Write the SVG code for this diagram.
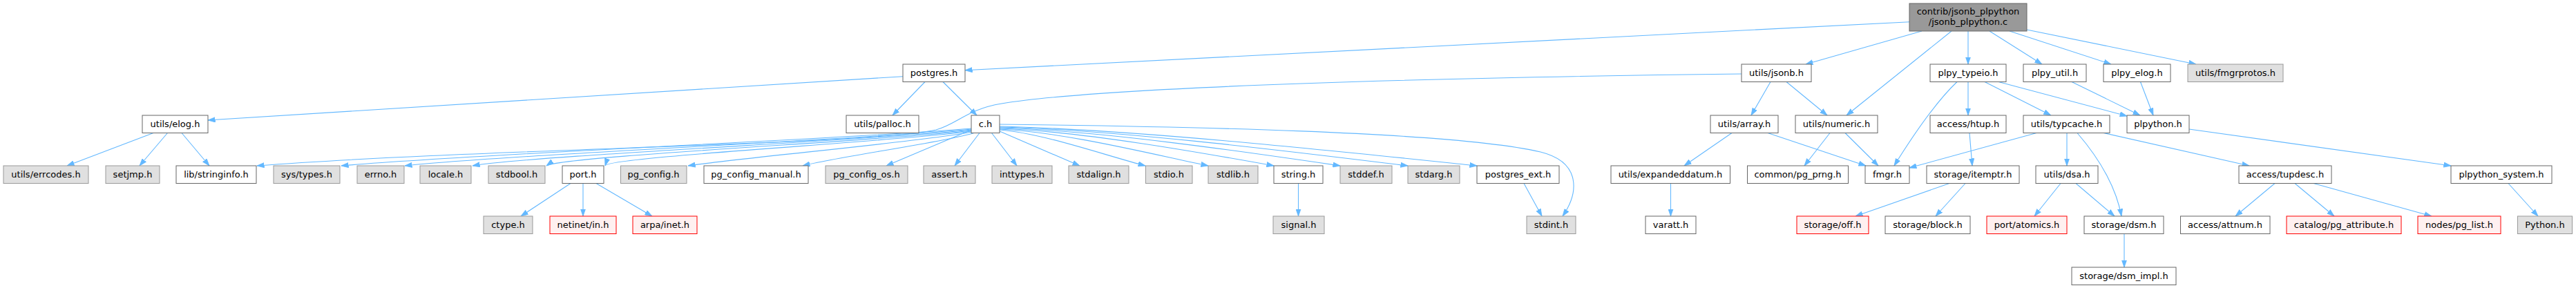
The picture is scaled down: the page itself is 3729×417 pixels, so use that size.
<svg xmlns="http://www.w3.org/2000/svg" width="3729" height="417" viewBox="0 0 3729 417">
<style>
text{font-family:"DejaVu Sans","Liberation Sans",sans-serif;font-size:13px;text-anchor:middle;fill:#000}
.w{fill:#fff;stroke:#666;stroke-width:1}
.g{fill:#e0e0e0;stroke:#999;stroke-width:1}
.r{fill:#fff0f0;stroke:#f00;stroke-width:1}
.rt{fill:#999;stroke:#666;stroke-width:1}
.e{fill:none;stroke:#63b8ff;stroke-width:1.1;marker-end:url(#arr)}
</style>
<defs>
<marker id="arr" markerUnits="userSpaceOnUse" viewBox="0 0 11 8" markerWidth="11" markerHeight="8" refX="10.5" refY="4" orient="auto">
<path d="M0,0.4 L10.5,4 L0,7.6 z" fill="#63b8ff" stroke="#63b8ff" stroke-width="0.8"/>
</marker>
</defs>
<rect x="0" y="0" width="3729" height="417" fill="#fff"/>
<g id="edges">
<path class="e" d="M2764,31.7 L1397,101.7"/>
<path class="e" d="M2782,45 L2614,93"/>
<path class="e" d="M2825,45 L2673,167"/>
<path class="e" d="M2849,45 L2849,93"/>
<path class="e" d="M2880,45 L2956,93"/>
<path class="e" d="M2909,45 L3056,93"/>
<path class="e" d="M2934,43 L3179,93"/>
<path class="e" d="M1307,110.7 L301,174"/>
<path class="e" d="M1339,118.5 L1292,167"/>
<path class="e" d="M1365,118.5 L1414,167"/>
<path class="e" d="M222,192.5 L97,240"/>
<path class="e" d="M242.5,192.5 L202,240"/>
<path class="e" d="M263,192.5 L303,240"/>
<path class="e" d="M2521,107 C2100,112 1600,125 1450,150 C1400,158 1385,180 1355,188 C1250,210 700,215 372,240"/>
<path class="e" d="M1406,186 C1250,200 700,222 494,240"/>
<path class="e" d="M1406,187 C1266,201 735,224 586,240"/>
<path class="e" d="M1406,188 C1282,202 772,225 684,240"/>
<path class="e" d="M1406,189 C1299,203 810,226 791,240"/>
<path class="e" d="M1406,190 C1313,204 880,227 876,240"/>
<path class="e" d="M1407,191 C1337,205 1086,227 996,240"/>
<path class="e" d="M1410,192.5 C1368,206 1217,226 1162,240"/>
<path class="e" d="M1406,188 L1283,240"/>
<path class="e" d="M1418,192.5 L1382,240"/>
<path class="e" d="M1435.5,192.5 L1472,240"/>
<path class="e" d="M1447,190 L1563,240"/>
<path class="e" d="M1447,188 C1510,193 1600,225 1658,240"/>
<path class="e" d="M1447,187 C1540,191 1675,225 1749,240"/>
<path class="e" d="M1447,186 C1566,190 1744,222 1844,240"/>
<path class="e" d="M1447,185 C1594,189 1817,222 1940,240"/>
<path class="e" d="M1447,184 C1623,188 1890,222 2038,240"/>
<path class="e" d="M1447,183 C1654,188 1965,222 2138,240"/>
<path class="e" d="M1447,180 C1700,183 2100,190 2230,220 C2290,235 2285,280 2262,313"/>
<path class="e" d="M826,265.5 L754,313"/>
<path class="e" d="M844,265.5 L844,313"/>
<path class="e" d="M863,265.5 L944,313"/>
<path class="e" d="M1879.5,265.5 L1879.5,313"/>
<path class="e" d="M2206,265.5 L2232,313"/>
<path class="e" d="M2563,118.5 L2535,167"/>
<path class="e" d="M2586,118.5 L2645,167"/>
<path class="e" d="M2833,118.5 C2805,145 2770,195 2742,240"/>
<path class="e" d="M2849,118.5 L2849,167"/>
<path class="e" d="M2873,118.5 L2969,167"/>
<path class="e" d="M2893,118.5 L3079,168"/>
<path class="e" d="M2999,118.5 L3098,167"/>
<path class="e" d="M3098.5,118.5 L3117,167"/>
<path class="e" d="M2507,192.5 L2438,240"/>
<path class="e" d="M2559,192.5 L2701,240"/>
<path class="e" d="M2649,192.5 L2612,240"/>
<path class="e" d="M2671,192.5 L2719,240"/>
<path class="e" d="M2851,192.5 L2855,240"/>
<path class="e" d="M2948,192.5 L2764,243"/>
<path class="e" d="M2992,192.5 L2992,240"/>
<path class="e" d="M3007,192.5 C3035,225 3062,265 3071,313"/>
<path class="e" d="M3043,192 L3256,240"/>
<path class="e" d="M3169,187 L3548,240"/>
<path class="e" d="M2418.5,265.5 L2418.5,313"/>
<path class="e" d="M2822,265.5 L2686,313"/>
<path class="e" d="M2845,265.5 L2802,313"/>
<path class="e" d="M2983,265.5 L2945,313"/>
<path class="e" d="M3005,265.5 L3061,313"/>
<path class="e" d="M3075,338.5 L3075,387"/>
<path class="e" d="M3293,265.5 L3236,313"/>
<path class="e" d="M3322,265.5 L3379,313"/>
<path class="e" d="M3349,265.5 L3520,313"/>
<path class="e" d="M3631,265.5 L3674,313"/>
</g>
<g id="node-root"><rect class="rt" x="2764" y="5" width="170" height="40"/><text x="2849" y="20.5">contrib/jsonb_plpython</text><text x="2849" y="35.5">/jsonb_plpython.c</text></g>
<g id="node-postgres"><rect class="w" x="1307" y="93" width="90" height="25.5"/><text x="1352" y="110">postgres.h</text></g>
<g id="node-jsonb"><rect class="w" x="2521" y="93" width="101" height="25.5"/><text x="2571.5" y="110">utils/jsonb.h</text></g>
<g id="node-plpy-typeio"><rect class="w" x="2794" y="93" width="110" height="25.5"/><text x="2849" y="110">plpy_typeio.h</text></g>
<g id="node-plpy-util"><rect class="w" x="2929" y="93" width="91" height="25.5"/><text x="2974.5" y="110">plpy_util.h</text></g>
<g id="node-plpy-elog"><rect class="w" x="3045" y="93" width="97" height="25.5"/><text x="3093.5" y="110">plpy_elog.h</text></g>
<g id="node-fmgrprotos"><rect class="g" x="3167" y="93" width="138" height="25.5"/><text x="3236" y="110">utils/fmgrprotos.h</text></g>
<g id="node-elog"><rect class="w" x="206" y="167" width="95" height="25.5"/><text x="253.5" y="184">utils/elog.h</text></g>
<g id="node-palloc"><rect class="w" x="1225" y="167" width="105" height="25.5"/><text x="1277.5" y="184">utils/palloc.h</text></g>
<g id="node-c"><rect class="w" x="1406" y="167" width="41" height="25.5"/><text x="1426.5" y="184">c.h</text></g>
<g id="node-array"><rect class="w" x="2476" y="167" width="98" height="25.5"/><text x="2525" y="184">utils/array.h</text></g>
<g id="node-numeric"><rect class="w" x="2599" y="167" width="119" height="25.5"/><text x="2658.5" y="184">utils/numeric.h</text></g>
<g id="node-htup"><rect class="w" x="2794" y="167" width="110" height="25.5"/><text x="2849" y="184">access/htup.h</text></g>
<g id="node-typcache"><rect class="w" x="2929" y="167" width="125" height="25.5"/><text x="2991.5" y="184">utils/typcache.h</text></g>
<g id="node-plpython"><rect class="w" x="3079" y="167" width="90" height="25.5"/><text x="3124" y="184">plpython.h</text></g>
<g id="node-errcodes"><rect class="g" x="5" y="240" width="123" height="25.5"/><text x="66.5" y="257">utils/errcodes.h</text></g>
<g id="node-setjmp"><rect class="g" x="153" y="240" width="78" height="25.5"/><text x="192" y="257">setjmp.h</text></g>
<g id="node-stringinfo"><rect class="w" x="255" y="240" width="116" height="25.5"/><text x="313" y="257">lib/stringinfo.h</text></g>
<g id="node-systypes"><rect class="g" x="396" y="240" width="96" height="25.5"/><text x="444" y="257">sys/types.h</text></g>
<g id="node-errno"><rect class="g" x="517" y="240" width="68" height="25.5"/><text x="551" y="257">errno.h</text></g>
<g id="node-locale"><rect class="g" x="608" y="240" width="74" height="25.5"/><text x="645" y="257">locale.h</text></g>
<g id="node-stdbool"><rect class="g" x="707" y="240" width="82" height="25.5"/><text x="748" y="257">stdbool.h</text></g>
<g id="node-port"><rect class="w" x="814" y="240" width="60" height="25.5"/><text x="844" y="257">port.h</text></g>
<g id="node-pg-config"><rect class="g" x="898.5" y="240" width="95.5" height="25.5"/><text x="946" y="257">pg_config.h</text></g>
<g id="node-pg-config-manual"><rect class="w" x="1019" y="240" width="151" height="25.5"/><text x="1094.5" y="257">pg_config_manual.h</text></g>
<g id="node-pg-config-os"><rect class="g" x="1195" y="240" width="119" height="25.5"/><text x="1254.5" y="257">pg_config_os.h</text></g>
<g id="node-assert"><rect class="g" x="1337" y="240" width="75" height="25.5"/><text x="1374.5" y="257">assert.h</text></g>
<g id="node-inttypes"><rect class="g" x="1436" y="240" width="87" height="25.5"/><text x="1479.5" y="257">inttypes.h</text></g>
<g id="node-stdalign"><rect class="g" x="1547" y="240" width="87" height="25.5"/><text x="1590.5" y="257">stdalign.h</text></g>
<g id="node-stdio"><rect class="g" x="1658.5" y="240" width="67.5" height="25.5"/><text x="1692" y="257">stdio.h</text></g>
<g id="node-stdlib"><rect class="g" x="1749" y="240" width="72" height="25.5"/><text x="1785" y="257">stdlib.h</text></g>
<g id="node-string"><rect class="w" x="1844" y="240" width="71" height="25.5"/><text x="1879.5" y="257">string.h</text></g>
<g id="node-stddef"><rect class="g" x="1940" y="240" width="75" height="25.5"/><text x="1977.5" y="257">stddef.h</text></g>
<g id="node-stdarg"><rect class="g" x="2038" y="240" width="75" height="25.5"/><text x="2075.5" y="257">stdarg.h</text></g>
<g id="node-postgres-ext"><rect class="w" x="2138" y="240" width="119" height="25.5"/><text x="2197.5" y="257">postgres_ext.h</text></g>
<g id="node-expandeddatum"><rect class="w" x="2332" y="240" width="172.5" height="25.5"/><text x="2418" y="257">utils/expandeddatum.h</text></g>
<g id="node-pg-prng"><rect class="w" x="2529.5" y="240" width="146" height="25.5"/><text x="2602.5" y="257">common/pg_prng.h</text></g>
<g id="node-fmgr"><rect class="w" x="2700" y="240" width="64" height="25.5"/><text x="2732" y="257">fmgr.h</text></g>
<g id="node-itemptr"><rect class="w" x="2789" y="240" width="134" height="25.5"/><text x="2856" y="257">storage/itemptr.h</text></g>
<g id="node-dsa"><rect class="w" x="2947" y="240" width="90" height="25.5"/><text x="2992" y="257">utils/dsa.h</text></g>
<g id="node-tupdesc"><rect class="w" x="3241" y="240" width="134" height="25.5"/><text x="3308" y="257">access/tupdesc.h</text></g>
<g id="node-plpython-system"><rect class="w" x="3548" y="240" width="146" height="25.5"/><text x="3621" y="257">plpython_system.h</text></g>
<g id="node-ctype"><rect class="g" x="700" y="313" width="71" height="25.5"/><text x="735.5" y="330">ctype.h</text></g>
<g id="node-netinet"><rect class="r" x="796" y="313" width="96" height="25.5"/><text x="844" y="330">netinet/in.h</text></g>
<g id="node-arpa"><rect class="r" x="916" y="313" width="93" height="25.5"/><text x="962.5" y="330">arpa/inet.h</text></g>
<g id="node-signal"><rect class="g" x="1843" y="313" width="74" height="25.5"/><text x="1880" y="330">signal.h</text></g>
<g id="node-stdint"><rect class="g" x="2210" y="313" width="71" height="25.5"/><text x="2245.5" y="330">stdint.h</text></g>
<g id="node-varatt"><rect class="w" x="2382" y="313" width="73" height="25.5"/><text x="2418.5" y="330">varatt.h</text></g>
<g id="node-off"><rect class="r" x="2601" y="313" width="104" height="25.5"/><text x="2653" y="330">storage/off.h</text></g>
<g id="node-block"><rect class="w" x="2729" y="313" width="123" height="25.5"/><text x="2790.5" y="330">storage/block.h</text></g>
<g id="node-atomics"><rect class="r" x="2876" y="313" width="116" height="25.5"/><text x="2934" y="330">port/atomics.h</text></g>
<g id="node-dsm"><rect class="w" x="3017" y="313" width="115" height="25.5"/><text x="3074.5" y="330">storage/dsm.h</text></g>
<g id="node-attnum"><rect class="w" x="3156.5" y="313" width="129.5" height="25.5"/><text x="3221" y="330">access/attnum.h</text></g>
<g id="node-pg-attribute"><rect class="r" x="3310" y="313" width="166" height="25.5"/><text x="3393" y="330">catalog/pg_attribute.h</text></g>
<g id="node-pg-list"><rect class="r" x="3500" y="313" width="120" height="25.5"/><text x="3560" y="330">nodes/pg_list.h</text></g>
<g id="node-python"><rect class="g" x="3644.5" y="313" width="79" height="25.5"/><text x="3684" y="330">Python.h</text></g>
<g id="node-dsm-impl"><rect class="w" x="2999" y="387" width="151" height="25.5"/><text x="3074.5" y="404">storage/dsm_impl.h</text></g>
</svg>
